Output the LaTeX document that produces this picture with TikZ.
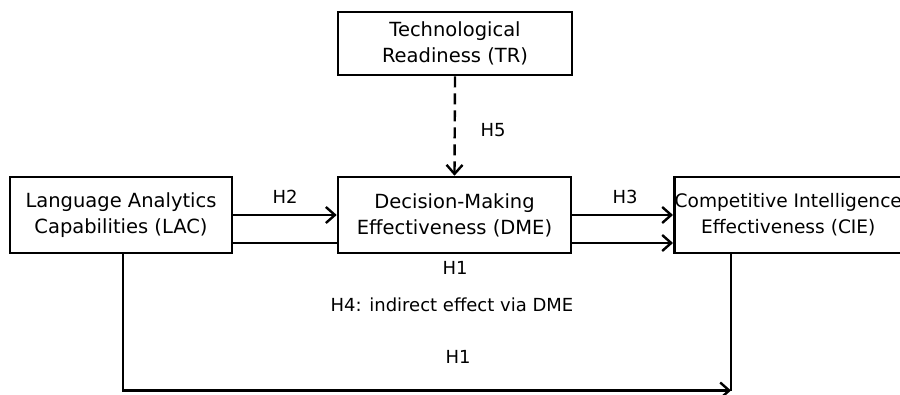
\documentclass[tikz,border=0pt]{standalone}
\usepackage{fontspec}
\setmainfont{DejaVu Sans}
\usetikzlibrary{arrows.meta}
\begin{document}
\begin{tikzpicture}[x=1pt,y=-1pt,
  box/.style={draw=black,line width=2.6pt,fill=white,inner sep=0pt,align=center,
    font=\fontsize{19.5}{26}\selectfont},
  lbl/.style={font=\fontsize{18}{22}\selectfont,inner sep=0pt},
  conn/.style={line width=2.4pt,draw=black},
  arr/.style={conn,-{Straight Barb[length=9pt,width=16pt,line width=2.4pt]}}]
\useasboundingbox (0,0) rectangle (900,394);
\clip (0,0) rectangle (900,394);
\node[box,minimum width=234pt,minimum height=63pt] (TR) at (455,43.5) {Technological\\Readiness (TR)};
\node[box,minimum width=222pt,minimum height=76pt] (LAC) at (121,215) {Language Analytics\\Capabilities (LAC)};
\node[box,minimum width=233pt,minimum height=76pt] (DME) at (454.5,215) {Decision-Making\\Effectiveness (DME)};
\node[box,font=\fontsize{18.6}{26}\selectfont,minimum width=228pt,minimum height=76pt,anchor=west] (CIE) at (673,215) {Competitive Intelligence\\Effectiveness (CIE)};
\draw[arr] (LAC.east) -- (DME.west);
\draw[conn] ([yshift=-28pt]LAC.east) -- ([yshift=-28pt]DME.west);
\draw[arr] (DME.east) -- (CIE.west);
\draw[arr] ([yshift=-28pt]DME.east) -- ([yshift=-28pt]CIE.west);
\draw[arr,dash pattern=on 11pt off 6pt] (TR.south) -- (DME.north);
\coordinate (B) at (731,390.5);
\draw[conn] (CIE.south west -| B) -- (B);
\draw[arr] ([xshift=2pt]LAC.south) |- (B);
\node[lbl] (h2) at (285,197) {H2};
\node[lbl] (h3) at (625,197) {H3};
\node[lbl] (h1a) at (455,268) {H1};
\node[lbl] (h5) at (493,130) {H5};
\node[lbl] (h4) at (452,305) {H4: indirect effect via DME};
\node[lbl] (h1b) at (458,357) {H1};
\end{tikzpicture}
\end{document}
